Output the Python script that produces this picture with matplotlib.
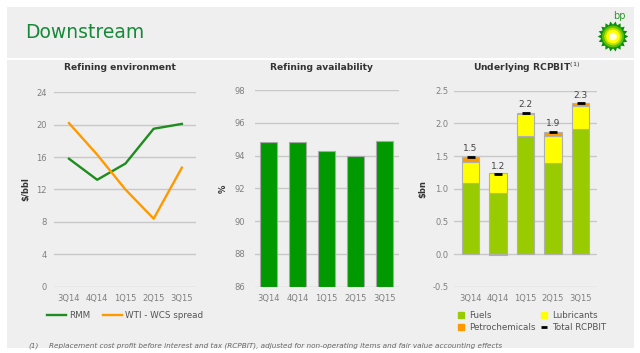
import numpy as np
import matplotlib.pyplot as plt
from matplotlib.patches import Rectangle, Polygon, Circle
from matplotlib.lines import Line2D

# data
quarters = ['3Q14', '4Q14', '1Q15', '2Q15', '3Q15']
rmm = [15.8, 13.2, 15.2, 19.5, 20.1]
wti_wcs = [20.2, 16.3, 12.0, 8.4, 14.7]
availability = [94.8, 94.8, 94.3, 94.0, 94.9]
fuels = [1.08, 0.94, 1.80, 1.40, 1.92]
lubricants = [0.33, 0.30, 0.34, 0.40, 0.35]
petrochemicals = [0.08, -0.02, 0.02, 0.07, 0.04]
total = [1.49, 1.22, 2.16, 1.87, 2.31]
total_labels = ['1.5', '1.2', '2.2', '1.9', '2.3']

W, H = 640, 353
fig = plt.figure(figsize=(W / 100, H / 100), dpi=100, facecolor='white')
plt.rcParams['font.family'] = 'DejaVu Sans'


def box(x0, y0, x1, y1):
    # pixel box (top-left origin) -> figure fraction rect
    return [x0 / W, 1 - y1 / H, (x1 - x0) / W, (y1 - y0) / H]


# background panels
for x0, y0, x1, y1 in [(7, 7, 634, 57.5), (7, 59.5, 634, 348)]:
    r = box(x0, y0, x1, y1)
    fig.patches.append(Rectangle((r[0], r[1]), r[2], r[3], transform=fig.transFigure,
                                 facecolor='#efefef', edgecolor='none', zorder=-5))

fig.text(25 / W, 1 - 33 / H, 'Downstream', fontsize=13.5, color='#178a3a',
         va='center', ha='left')

# bp logo
lax = fig.add_axes(box(597, 20, 629, 53))
lax.set_xlim(-1.05, 1.05)
lax.set_ylim(-1.05, 1.05)
lax.set_aspect('equal')
lax.axis('off')
ang = np.linspace(0, 2 * np.pi, 37)[:-1]
rad = np.where(np.arange(36) % 2 == 0, 1.0, 0.78)
lax.add_patch(Polygon(np.c_[rad * np.cos(ang), rad * np.sin(ang)], closed=True,
                      facecolor='#0a8f0a', edgecolor='none'))
for rr, c in [(0.72, '#5cbf00'), (0.58, '#b8e000'), (0.45, '#ffff00'), (0.25, '#ffffe0')]:
    lax.add_patch(Circle((0, 0), rr, facecolor=c, edgecolor='none'))
fig.text(619 / W, 1 - 16 / H, 'bp', fontsize=7, color='#2a9a2a', ha='center', va='center')

tick_color = '#808080'
grid_color = '#c8c8c8'
x = np.arange(len(quarters))


def style(ax, ylim, step, fmt, ypad):
    ax.set_facecolor('none')
    for s in ax.spines.values():
        s.set_visible(False)
    ax.set_ylim(*ylim)
    ax.set_yticks(np.arange(ylim[0], ylim[1] + step / 2, step))
    ax.yaxis.set_major_formatter(plt.FormatStrFormatter(fmt))
    ax.yaxis.grid(True, color=grid_color, lw=1.0)
    ax.set_axisbelow(True)
    ax.set_xticks(x)
    ax.set_xticklabels(quarters)
    ax.tick_params(axis='both', length=0, colors=tick_color, labelsize=6)
    ax.tick_params(axis='y', pad=ypad)
    ax.tick_params(axis='x', pad=5)


# Refining environment
ax1 = fig.add_axes(box(54, 92.3, 196, 286.7))
style(ax1, (0, 24), 4, '%d', 5)
ax1.set_xlim(-0.53, 4.5)
ax1.plot(x, rmm, color='#1e8c1e', lw=1.7, label='RMM')
ax1.plot(x, wti_wcs, color='#ff9900', lw=1.7, label='WTI - WCS spread')
ax1.set_ylabel('$/bbl', fontsize=6, fontweight='bold', color='#333333')
ax1.yaxis.set_label_coords(-0.17, 0.5)
ax1.legend(loc='center', bbox_to_anchor=(0.5, -0.146), ncol=2, frameon=False,
           fontsize=6.3, labelcolor='#555555', handlelength=2.2, handletextpad=0.4,
           columnspacing=1.4)
fig.text(120 / W, 1 - 68 / H, 'Refining environment', fontsize=6.6, fontweight='bold',
         color='#333333', ha='center', va='center')

# Refining availability
ax2 = fig.add_axes(box(255, 90, 399, 286.7))
style(ax2, (86, 98), 2, '%d', 7)
ax2.set_xlim(-0.46, 4.5)
ax2.bar(x, [v - 86 for v in availability], bottom=86, width=0.58, color='#009900',
        edgecolor='#a8a8a8', lw=0.8)
ax2.set_ylabel('%', fontsize=6, fontweight='bold', color='#333333')
ax2.yaxis.set_label_coords(-0.19, 0.5)
fig.text(322 / W, 1 - 68 / H, 'Refining availability', fontsize=6.6, fontweight='bold',
         color='#333333', ha='center', va='center')

# Underlying RCPBIT
ax3 = fig.add_axes(box(454, 90.7, 597, 286.7))
style(ax3, (-0.5, 2.5), 0.5, '%.1f', 4)
ax3.set_xlim(-0.6, 4.6)
bw = 0.62
edge = dict(edgecolor='#b0b0b0', lw=0.8)
ax3.bar(x, fuels, width=bw, color='#99cc00', **edge)
ax3.bar(x, lubricants, bottom=fuels, width=bw, color='#ffff00', **edge)
petro_bottom = [f + l if p >= 0 else 0 for f, l, p in zip(fuels, lubricants, petrochemicals)]
ax3.bar(x, petrochemicals, bottom=petro_bottom, width=bw, color='#ff9900', **edge)
ax3.plot(x, total, ls='none', marker='_', ms=5.5, mew=2, color='black')
for xi, t, lab in zip(x, total, total_labels):
    ax3.annotate(lab, (xi, t), xytext=(0, 2.5), textcoords='offset points',
                 ha='center', va='bottom', fontsize=6.5, color='#444444')
ax3.set_ylabel('$bn', fontsize=6, fontweight='bold', color='#333333')
ax3.yaxis.set_label_coords(-0.19, 0.5)
handles = [
    Line2D([], [], ls='none', marker='s', ms=5, color='#99cc00'),
    Line2D([], [], ls='none', marker='s', ms=5, color='#ff9900'),
    Line2D([], [], ls='none', marker='s', ms=5, color='#ffff00'),
    Line2D([], [], ls='none', marker='_', ms=5, mew=2, color='black'),
]
ax3.legend(handles, ['Fuels', 'Petrochemicals', 'Lubricants', 'Total RCPBIT'],
           loc='upper left', bbox_to_anchor=(-0.04, -0.085), ncol=2, frameon=False,
           fontsize=6.3, labelcolor='#555555', handlelength=1.0, handletextpad=0.5,
           columnspacing=0.4, labelspacing=0.35)
fig.text(527 / W, 1 - 68 / H, 'Underlying RCPBIT$^{(1)}$', fontsize=6.6, fontweight='bold',
         color='#333333', ha='center', va='center')

# footnote
fig.text(28 / W, 1 - 346 / H, '(1)', fontsize=5.2, style='italic', color='#666666', va='center')
fig.text(49 / W, 1 - 346 / H,
         'Replacement cost profit before interest and tax (RCPBIT), adjusted for '
         'non-operating items and fair value accounting effects',
         fontsize=5.2, style='italic', color='#666666', va='center')

fig.savefig('out.png', dpi=100, facecolor='white')
